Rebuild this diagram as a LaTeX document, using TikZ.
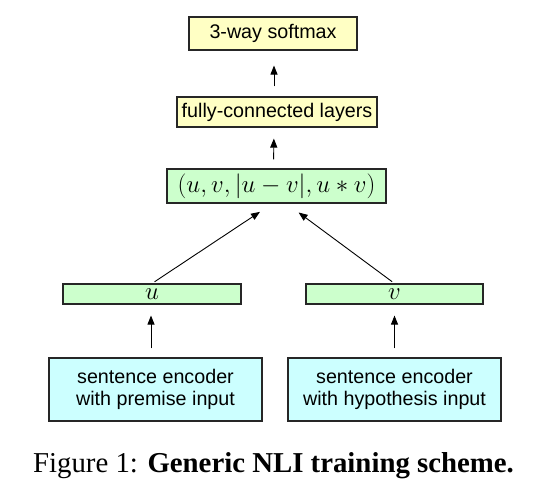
\documentclass[tikz,border=0pt]{standalone}
\usepackage{fontspec}
\setmainfont{Liberation Serif}
\newfontfamily\boxfont{Liberation Sans}
\usetikzlibrary{arrows.meta,calc}
\definecolor{ylw}{HTML}{FFFFC4}
\definecolor{grn}{HTML}{CCFFCC}
\definecolor{cyn}{HTML}{CCFFFF}
\begin{document}
\begin{tikzpicture}[x=1pt,y=-1pt,
  box/.style={draw=black!85, line width=1.1pt, inner sep=0pt, rectangle},
  ybox/.style={box, fill=ylw, font=\boxfont\fontsize{19.7}{22}\selectfont},
  gbox/.style={box, fill=grn, font=\fontsize{24}{26}\selectfont},
  vbox/.style={box, fill=grn, font=\fontsize{28}{28}\selectfont},
  cbox/.style={box, fill=cyn, align=center, font=\boxfont\fontsize{19.7}{22.5}\selectfont},
  arr/.style={-{Triangle[length=9pt,width=7pt]}, line width=0.9pt}]
\useasboundingbox (0,0) rectangle (548,498);
\node[ybox, minimum width=168pt, minimum height=33pt] (soft) at (273,33.5) {3-way softmax};
\node[ybox, minimum width=200pt, minimum height=30pt] (fc) at (277,112) {fully-connected layers};
\node[gbox, minimum width=219pt, minimum height=34pt] (cat) at (276.5,186) {$(u,v,|u-v|,u*v)$};
\node[vbox, minimum width=178pt, minimum height=20pt] (u) at (152,294) {$u$};
\node[vbox, minimum width=177pt, minimum height=20pt] (v) at (394.5,294) {$v$};
\node[cbox, minimum width=213pt, minimum height=63pt] (encL) at (155.5,389.5) {sentence encoder\\with premise input};
\node[cbox, minimum width=213pt, minimum height=63pt] (encR) at (394.5,389.5) {sentence encoder\\with hypothesis input};
\draw[arr, shorten <=10pt, shorten >=15pt] ([xshift=-3pt]fc.north) -- ([xshift=1pt]soft.south);
\draw[arr, shorten <=9pt, shorten >=11pt] ([xshift=-3pt]cat.north) -- ([xshift=-3pt]fc.south);
\draw[arr, shorten <=3pt, shorten >=15pt] (u.north) -- ([xshift=-4pt]cat.south);
\draw[arr, shorten <=3pt, shorten >=15pt] (v.north) -- ([xshift=10pt]cat.south);
\draw[arr, shorten <=9pt, shorten >=11pt] ([xshift=-4.5pt]encL.north) -- ([xshift=-1pt]u.south);
\draw[arr, shorten <=9pt, shorten >=11pt] (encR.north) -- (v.south);
\node[anchor=base, font=\fontsize{28.8}{32}\selectfont, inner sep=0pt] (cap) at (273.5,472) {Figure 1: \textbf{Generic NLI training scheme.}};
\end{tikzpicture}
\end{document}
